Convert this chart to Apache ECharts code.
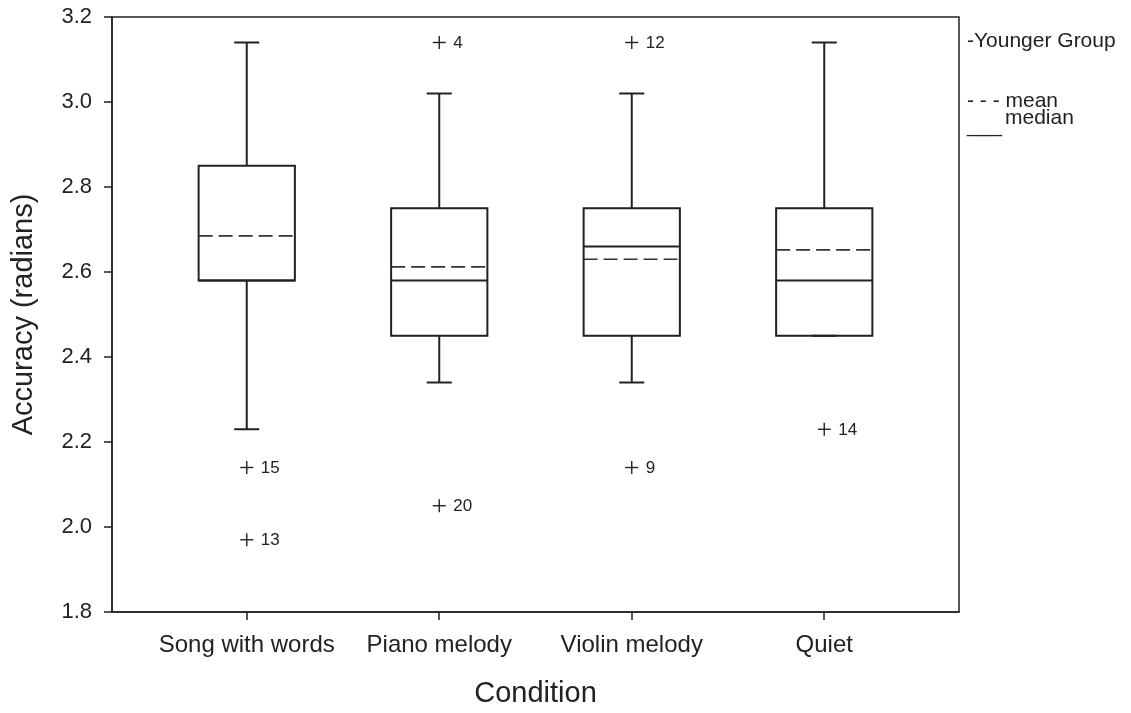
<!DOCTYPE html>
<html>
<head>
<meta charset="utf-8">
<title>Accuracy by condition</title>
<script src="https://cdn.jsdelivr.net/npm/echarts@6/dist/echarts.min.js"></script>
<style>
  html, body { margin: 0; padding: 0; background: #fff; }
  #chart { width: 1131px; height: 713px; }
</style>
</head>
<body>
<div id="chart"></div>
<script>
// Listening conditions, one box per condition
const categories = ['Song with words', 'Piano melody', 'Violin melody', 'Quiet'];

// Box statistics (radians)
const lowerWhisker = [2.23, 2.34, 2.34, 2.45];
const quartile1 = [2.58, 2.45, 2.45, 2.45];
const medians = [2.58, 2.58, 2.66, 2.58];
const quartile3 = [2.85, 2.75, 2.75, 2.75];
const upperWhisker = [3.14, 3.02, 3.02, 3.14];
const means = [2.685, 2.612, 2.63, 2.652];

// Outlying participants: condition index, value, participant id
const outlierCondition = [0, 0, 1, 1, 2, 2, 3];
const outlierValues = [2.14, 1.97, 3.14, 2.05, 3.14, 2.14, 2.23];
const outlierIds = ['15', '13', '4', '20', '12', '9', '14'];

// Y axis ticks
const yMin = 1.8, yMax = 3.2, yStep = 0.2;

const INK = '#222';
const FONT = '"Liberation Sans", Arial, Helvetica, sans-serif';

const boxData = categories.map((c, i) => [
  i + 1, lowerWhisker[i], quartile1[i], medians[i], quartile3[i], upperWhisker[i], means[i]
]);
const outlierData = outlierCondition.map((c, i) => [c + 1, outlierValues[i]]);

function renderBox(params, api) {
  const x = api.value(0);
  const lo = api.value(1), q1 = api.value(2), md = api.value(3);
  const q3 = api.value(4), hi = api.value(5), mn = api.value(6);
  const cx = api.coord([x, lo])[0];
  const y = v => api.coord([x, v])[1];
  const half = api.size([0.5, 0])[0] / 2;
  const capHalf = api.size([0.13, 0])[0] / 2;
  const solid = { stroke: INK, lineWidth: 2, fill: null };
  const line = (x1, y1, x2, y2, style) => ({
    type: 'line', shape: { x1, y1, x2, y2 }, style
  });
  return {
    type: 'group',
    children: [
      line(cx, y(lo), cx, y(q1), solid),
      line(cx - capHalf, y(lo), cx + capHalf, y(lo), solid),
      line(cx, y(q3), cx, y(hi), solid),
      line(cx - capHalf, y(hi), cx + capHalf, y(hi), solid),
      {
        type: 'rect',
        shape: { x: cx - half, y: y(q3), width: half * 2, height: y(q1) - y(q3) },
        style: { stroke: INK, lineWidth: 2, fill: null }
      },
      line(cx - half, y(md), cx + half, y(md), { stroke: INK, lineWidth: 2 }),
      line(cx - half, y(mn), cx + half, y(mn), { stroke: '#333', lineWidth: 1.6, lineDash: [14, 6] })
    ]
  };
}

function renderOutlier(params, api) {
  const p = api.coord([api.value(0), api.value(1)]);
  const h = 6.5;
  const st = { stroke: INK, lineWidth: 1.4 };
  return {
    type: 'group',
    children: [
      { type: 'line', shape: { x1: p[0] - h, y1: p[1], x2: p[0] + h, y2: p[1] }, style: st },
      { type: 'line', shape: { x1: p[0], y1: p[1] - h, x2: p[0], y2: p[1] + h }, style: st },
      {
        type: 'text', x: p[0] + 14, y: p[1] + 1,
        style: {
          text: outlierIds[params.dataIndex], fill: INK,
          font: '17px ' + FONT, align: 'left', verticalAlign: 'middle'
        }
      }
    ]
  };
}

const chart = echarts.init(document.getElementById('chart'), null, { renderer: 'canvas' });

chart.setOption({
  animation: false,
  backgroundColor: '#fff',
  textStyle: { fontFamily: FONT, color: INK },
  grid: {
    left: 112, right: 172, top: 17, bottom: 101,
    show: true, borderColor: INK, borderWidth: 1.5, backgroundColor: 'transparent'
  },
  xAxis: {
    type: 'value',
    min: 0.3, max: 4.7,
    name: 'Condition',
    nameLocation: 'middle',
    nameGap: 67,
    nameTextStyle: { fontSize: 29, color: INK, fontFamily: FONT },
    axisLine: { show: true, onZero: false, lineStyle: { color: INK, width: 1.5 } },
    axisTick: { show: true, length: 8, customValues: [1, 2, 3, 4], lineStyle: { color: INK, width: 1.5 } },
    axisLabel: {
      customValues: [1, 2, 3, 4],
      formatter: v => categories[Math.round(v) - 1] || '',
      fontSize: 24, color: INK, margin: 21, fontFamily: FONT
    },
    splitLine: { show: false }
  },
  yAxis: {
    type: 'value',
    min: yMin, max: yMax, interval: yStep,
    name: 'Accuracy (radians)',
    nameLocation: 'middle',
    nameGap: 74,
    nameTextStyle: { fontSize: 29, color: INK, fontFamily: FONT },
    axisLine: { show: true, onZero: false, lineStyle: { color: INK, width: 1.5 } },
    axisTick: { show: true, length: 8, lineStyle: { color: INK, width: 1.5 } },
    axisLabel: {
      formatter: v => v.toFixed(1),
      fontSize: 22, color: INK, margin: 20, fontFamily: FONT
    },
    splitLine: { show: false }
  },
  graphic: [
    { type: 'text', x: 967, y: 41, style: { text: '-Younger Group', font: '21px ' + FONT, fill: INK, verticalAlign: 'middle' } },
    { type: 'text', x: 967, y: 101, style: { text: '- - - mean', font: '21px ' + FONT, fill: INK, verticalAlign: 'middle' } },
    { type: 'text', x: 967, y: 126, style: { text: '___', font: '21px ' + FONT, fill: INK, verticalAlign: 'middle' } },
    { type: 'text', x: 1005, y: 118, style: { text: 'median', font: '21px ' + FONT, fill: INK, verticalAlign: 'middle' } }
  ],
  series: [
    {
      type: 'custom',
      name: 'box',
      renderItem: renderBox,
      encode: { x: 0, y: [1, 2, 3, 4, 5, 6] },
      data: boxData,
      silent: true
    },
    {
      type: 'custom',
      name: 'outliers',
      renderItem: renderOutlier,
      encode: { x: 0, y: 1 },
      data: outlierData,
      silent: true
    }
  ]
});
</script>
</body>
</html>
